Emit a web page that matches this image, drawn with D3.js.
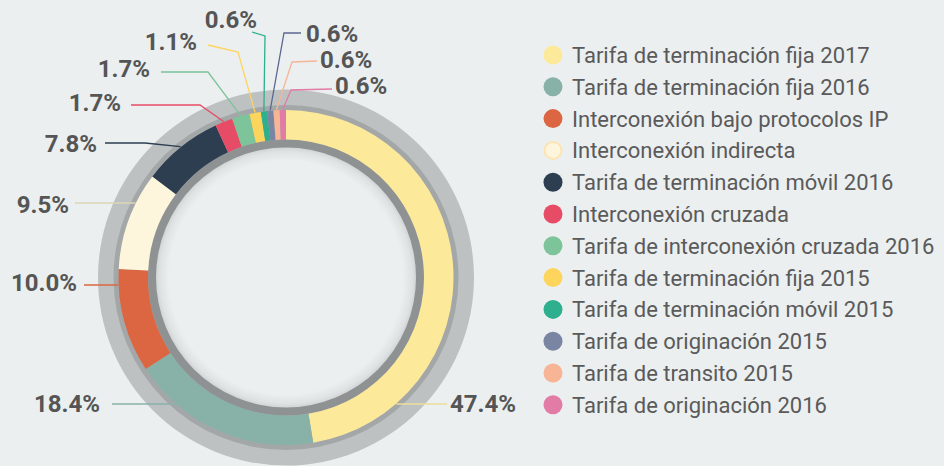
<!DOCTYPE html>
<html>
<head>
<meta charset="utf-8">
<script src="https://cdn.jsdelivr.net/npm/d3@7"></script>
<style>
  body { margin: 0; background: #ebeff0; }
  svg { display: block; }
</style>
</head>
<body>
<div id="chart"></div>
<script>
// data
var categories = [
  "Tarifa de terminación fija 2017",
  "Tarifa de terminación fija 2016",
  "Interconexión bajo protocolos IP",
  "Interconexión indirecta",
  "Tarifa de terminación móvil 2016",
  "Interconexión cruzada",
  "Tarifa de interconexión cruzada 2016",
  "Tarifa de terminación fija 2015",
  "Tarifa de terminación móvil 2015",
  "Tarifa de originación 2015",
  "Tarifa de transito 2015",
  "Tarifa de originación 2016"
];
var shares = [47.4, 18.4, 10.0, 9.5, 7.8, 1.7, 1.7, 1.1, 0.6, 0.6, 0.6, 0.6];
var colors = ["#fde99a", "#88b2a7", "#dc6641", "#fdf6dc", "#2c3e50", "#e74c67",
              "#7dc49a", "#fdd55c", "#2eaf8d", "#7a85a3", "#f8b596", "#e27ba6"];
var lineColors = ["#ecdc9c", "#88b2a7", "#dc6641", "#dcd6b6", "#2c3e50", "#e74c67",
                  "#7dc49a", "#fdd55c", "#2eaf8d", "#5c6790", "#f8b596", "#e27ba6"];

// label layout: text point, anchor, leader start, optional elbow
var labelLayout = [
  {tx: 450, ty: 403, anchor: "start", sx: 447, sy: 404},
  {tx: 100, ty: 403, anchor: "end",   sx: 112, sy: 404},
  {tx: 77,  ty: 282, anchor: "end",   sx: 84,  sy: 285},
  {tx: 69,  ty: 204, anchor: "end",   sx: 75,  sy: 203},
  {tx: 97,  ty: 143, anchor: "end",   sx: 105, sy: 143, ex: 145, ey: 143},
  {tx: 121, ty: 102, anchor: "end",   sx: 131, sy: 105, ex: 200, ey: 105},
  {tx: 150, ty: 68,  anchor: "end",   sx: 161, sy: 72,  ex: 208, ey: 72},
  {tx: 197, ty: 41,  anchor: "end",   sx: 208, sy: 45,  ex: 238, ey: 52},
  {tx: 257, ty: 19,  anchor: "end",   sx: 252, sy: 32,  ex: 265, ey: 36},
  {tx: 306, ty: 33,  anchor: "start", sx: 301, sy: 33,  ex: 284, ey: 33},
  {tx: 320, ty: 59,  anchor: "start", sx: 317, sy: 61,  ex: 292, ey: 62},
  {tx: 335, ty: 85,  anchor: "start", sx: 332, sy: 89,  ex: 291, ey: 90}
];

var svgWidth = 944;
var svgHeight = 466;
var cx = 286, cy = 277.5;
var rInner = 130, rColIn = 138, rColOut = 167.5, rBand = 172.5, rOuter = 188;

var svg = d3.select("#chart")
  .append("svg")
  .attr("width", svgWidth)
  .attr("height", svgHeight);

var defs = svg.append("defs");
var grad = defs.append("radialGradient").attr("id", "innerShade");
grad.append("stop").attr("offset", "0.9").attr("stop-color", "#ebeff0");
grad.append("stop").attr("offset", "0.97").attr("stop-color", "#dfe2e3");
grad.append("stop").attr("offset", "1").attr("stop-color", "#d2d5d6");

var g = svg.append("g").attr("transform", `translate(${cx}, ${cy})`);

// gray frame rings
g.append("circle").attr("r", rOuter).attr("fill", "#bdc1c2");
g.append("circle").attr("r", rBand).attr("fill", "#a4a7a8");
g.append("circle").attr("r", rColIn).attr("fill", "#8f9293");
g.append("circle").attr("r", rInner).attr("fill", "url(#innerShade)");

var data = shares.map(function(v, i) {
  return {name: categories[i], value: v, color: colors[i], lineColor: lineColors[i], layout: labelLayout[i]};
});

var pie = d3.pie().sort(null).value(d => d.value).startAngle(0).endAngle(2 * Math.PI);
var arcs = pie(data);

var arc = d3.arc().innerRadius(rColIn).outerRadius(rColOut);

g.selectAll("path.slice")
  .data(arcs)
  .enter()
  .append("path")
  .attr("class", "slice")
  .attr("d", arc)
  .attr("fill", d => d.data.color);

// leader lines
var rEnd = 168;
function endPoint(d) {
  var L = d.data.layout;
  if (L.ex === undefined) {
    // horizontal line meets ring at label height
    var dy = L.sy - cy;
    var dx = Math.sqrt(rEnd * rEnd - dy * dy);
    return [L.sx > cx ? cx + dx : cx - dx, L.sy];
  }
  var a = (d.startAngle + d.endAngle) / 2;
  return [cx + rEnd * Math.sin(a), cy - rEnd * Math.cos(a)];
}

var line = d3.line();
svg.selectAll("path.leader")
  .data(arcs)
  .enter()
  .append("path")
  .attr("class", "leader")
  .attr("fill", "none")
  .attr("stroke", d => d.data.lineColor)
  .attr("stroke-width", 1.3)
  .attr("d", function(d) {
    var L = d.data.layout;
    var pts = [[L.sx, L.sy]];
    if (L.ex !== undefined) pts.push([L.ex, L.ey]);
    pts.push(endPoint(d));
    return line(pts);
  });

var fmt = d3.format(".1f");
svg.selectAll("text.pct")
  .data(arcs)
  .enter()
  .append("text")
  .attr("class", "pct")
  .attr("x", d => d.data.layout.tx)
  .attr("y", d => d.data.layout.ty + 9)
  .attr("text-anchor", d => d.data.layout.anchor)
  .attr("font-family", "Roboto, sans-serif")
  .attr("font-weight", "bold")
  .attr("font-size", "24px")
  .attr("fill", "#555555")
  .text(d => fmt(d.data.value) + "%");

// legend
var legend = svg.append("g").attr("transform", "translate(553, 55)");
var rowStep = 31.8;
var rows = legend.selectAll("g.row")
  .data(data)
  .enter()
  .append("g")
  .attr("class", "row")
  .attr("transform", (d, i) => `translate(0, ${i * rowStep})`);

rows.append("circle")
  .attr("r", d => d.name === "Interconexión indirecta" ? 8.5 : 9.5)
  .attr("fill", d => d.color)
  .attr("stroke", d => d.name === "Interconexión indirecta" ? "#fde4b0" : "none")
  .attr("stroke-width", 2);

rows.append("text")
  .attr("x", 19)
  .attr("y", 8)
  .attr("font-family", "Roboto, sans-serif")
  .attr("font-size", "22px")
  .attr("fill", "#5a5a5a")
  .text(d => d.name);
</script>
</body>
</html>
